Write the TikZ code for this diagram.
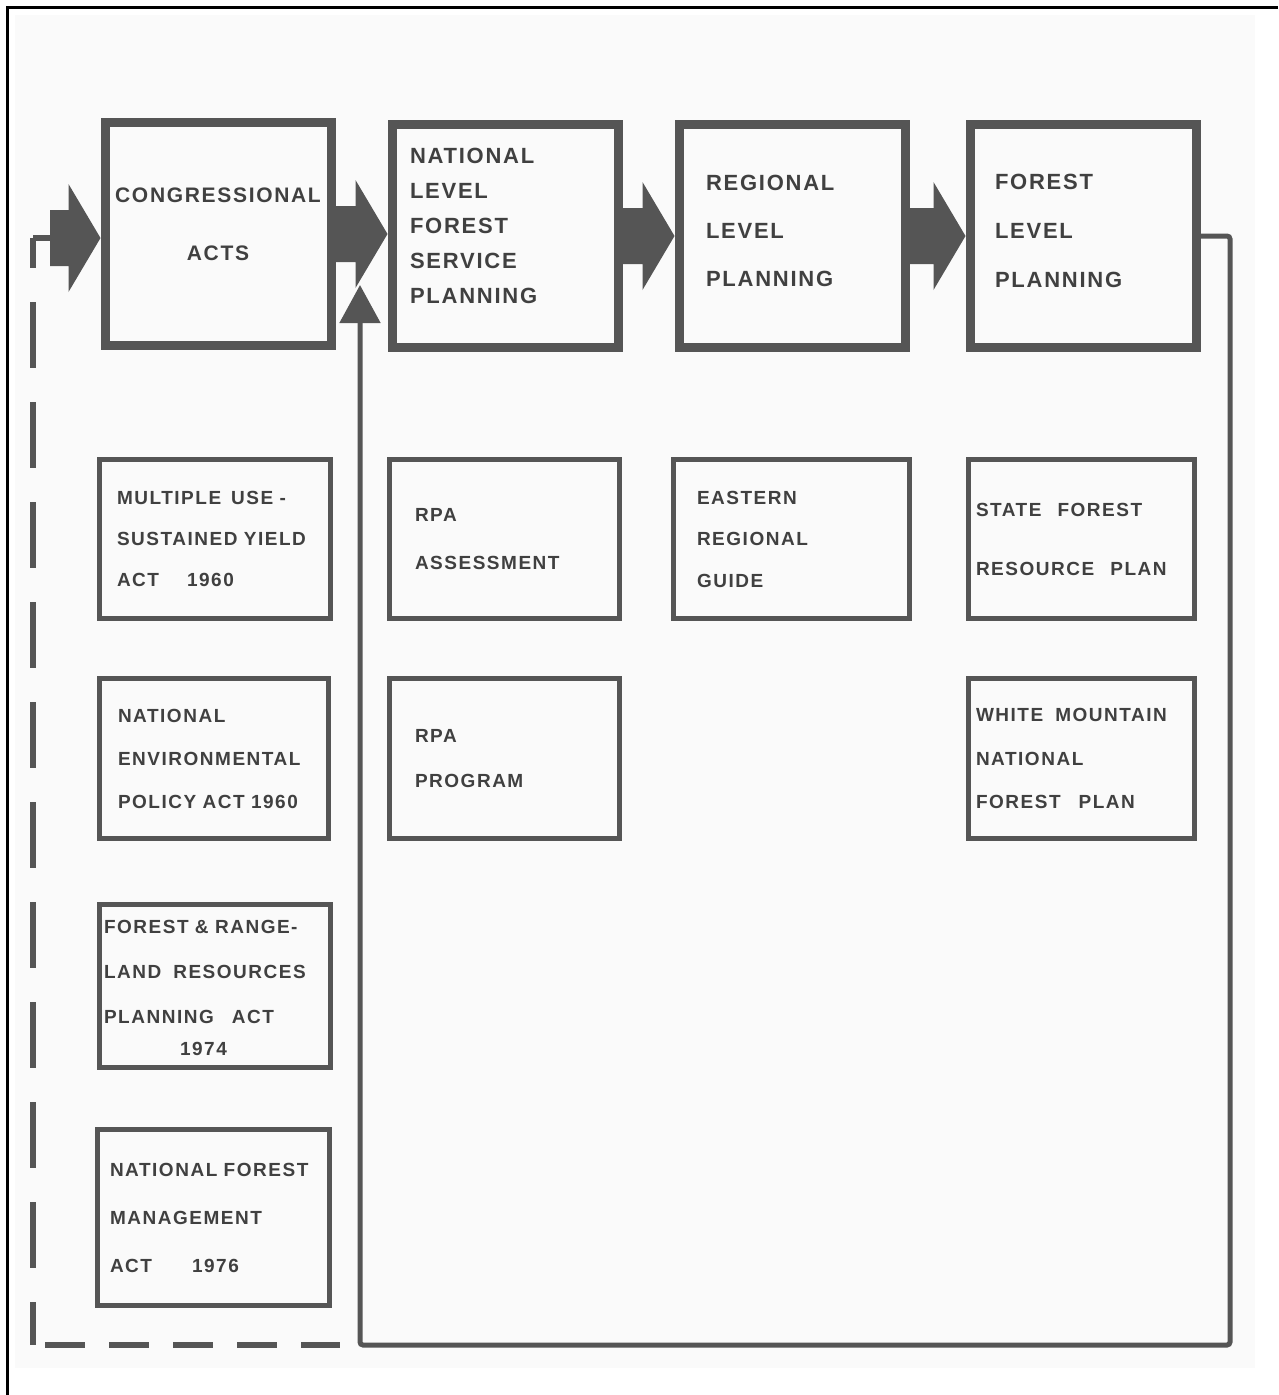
\documentclass[tikz,border=0pt]{standalone}
\usepackage{fontspec}
\usetikzlibrary{arrows.meta,positioning,calc}
\newfontfamily\lettering[LetterSpace=8]{Liberation Sans}
\definecolor{ink}{HTML}{555555}
\definecolor{inktext}{HTML}{404040}
\newcommand{\bigat}[1]{\lettering\bfseries\fontsize{22}{#1}\selectfont}
\newcommand{\subat}[1]{\lettering\bfseries\fontsize{19}{#1}\selectfont}
\newcommand{\wsp}[1]{\hspace*{#1pt}}
\newcommand{\lift}[1]{\\[#1]\mbox{}}
% fat block arrow from #1 to #2 (tip on #2)
\newcommand{\fatarrow}[2]{%
  \fill[ink] let \p1=(#1), \p2=(#2) in
    (\x1,\y1+28pt) -- (\x2-32pt,\y1+28pt) -- (\x2-32pt,\y1+54pt) -- (\x2,\y1)
    -- (\x2-32pt,\y1-54pt) -- (\x2-32pt,\y1-28pt) -- (\x1,\y1-28pt) -- cycle;}
\tikzset{
  topbox/.style={draw=ink,line width=9pt,minimum width=226,minimum height=223,
    inner sep=0pt,align=left,text=inktext},
  subbox/.style={draw=ink,line width=5pt,minimum width=230,minimum height=159,
    inner sep=0pt,align=left,text=inktext},
  feed/.style={draw=ink,line width=5pt},
  feedback/.style={draw=ink,line width=6pt}
}
\begin{document}
\begin{tikzpicture}[x=1pt,y=-1pt]
\useasboundingbox (0,0) rectangle (1278,1395);
\fill[black!2] (15,15) rectangle (1255,1368);
\draw[black,line width=3pt] (7,1395) -- (7,7) -- (1278,7);

% planning levels
\node[topbox,align=center,font=\lettering\bfseries\fontsize{21}{58}\selectfont] (ca) at (218,234) {CONGRESSIONAL\\ACTS\lift{-38pt}};
\node[topbox,text width=190,font=\bigat{35}] (nat) at (505,236) {NATIONAL\\LEVEL\\FOREST\\SERVICE\\PLANNING\lift{-15pt}};
\node[topbox,text width=172,font=\bigat{48}] (reg) at (792,236) {REGIONAL\\LEVEL\\PLANNING\lift{-38pt}};
\node[topbox,text width=176,font=\bigat{49}] (for) at (1083,236) {FOREST\\LEVEL\\PLANNING\lift{-39pt}};

% documents
\node[subbox,minimum width=231,text width=196,font=\subat{41}] (mu) at (215,539) {MULTIPLE\wsp{10}USE~-\\SUSTAINED~YIELD\\ACT\wsp{28}1960};
\node[subbox,text width=179,font=\subat{48}] (rpaa) at (504.5,539) {RPA\\ASSESSMENT};
\node[subbox,minimum width=236,text width=189,font=\subat{41.5}] (erg) at (791.5,539) {EASTERN\\REGIONAL\\GUIDE};
\node[subbox,minimum width=226,text width=211,font=\subat{59}] (sfr) at (1081.5,539) {STATE\wsp{16}FOREST\\RESOURCE\wsp{16}PLAN};
\node[subbox,minimum width=229,minimum height=160,text width=192,font=\subat{43}] (nepa) at (214,758.5) {NATIONAL\\ENVIRONMENTAL\\POLICY~ACT~1960};
\node[subbox,minimum height=160,text width=179,font=\subat{45}] (rpap) at (504.5,758.5) {RPA\\PROGRAM};
\node[subbox,minimum width=226,minimum height=160,text width=211,font=\subat{43.5}] (wm) at (1081.5,758.5) {WHITE\wsp{12}MOUNTAIN\\NATIONAL\\FOREST\wsp{18}PLAN};
\node[subbox,minimum width=231,minimum height=163,text width=222,font=\subat{45}] (frr) at (215,986) {\mbox{}\\[-27pt]FOREST~\&~RANGE-\\LAND\wsp{12}RESOURCES\\PLANNING\wsp{18}ACT\\[-13pt]\wsp{76}1974};
\node[subbox,minimum width=232,minimum height=176,text width=207,font=\subat{48}] (nfma) at (213.5,1217.5) {NATIONAL~FOREST\\MANAGEMENT\\ACT\wsp{40}1976};

% feedback loops
\coordinate (ain) at (50,238);
\coordinate (dtop) at (33,238);
\coordinate (dc) at (33,1345);
\coordinate (foot) at (360,1345);
\coordinate (rc) at (1230,1345);
\coordinate (uptip) at (360,285);

\draw[feed,rounded corners=3pt,-{Triangle[width=40pt,length=38pt]}] (for.east) -| (rc) -| (uptip);
\draw[feedback,dash pattern=on 66pt off 34pt,dash phase=36pt] (dtop) -- (dc);
\draw[feedback,dash pattern=on 40pt off 24pt] ($(dc)+(12,0)$) -- ($(foot)+(-20,0)$);
\draw[feedback] (dtop) -- (ain);

\fatarrow{ain}{ca.west}
\fatarrow{ca.east}{nat.west}
\fatarrow{nat.east}{reg.west}
\fatarrow{reg.east}{for.west}
\end{tikzpicture}
\end{document}
